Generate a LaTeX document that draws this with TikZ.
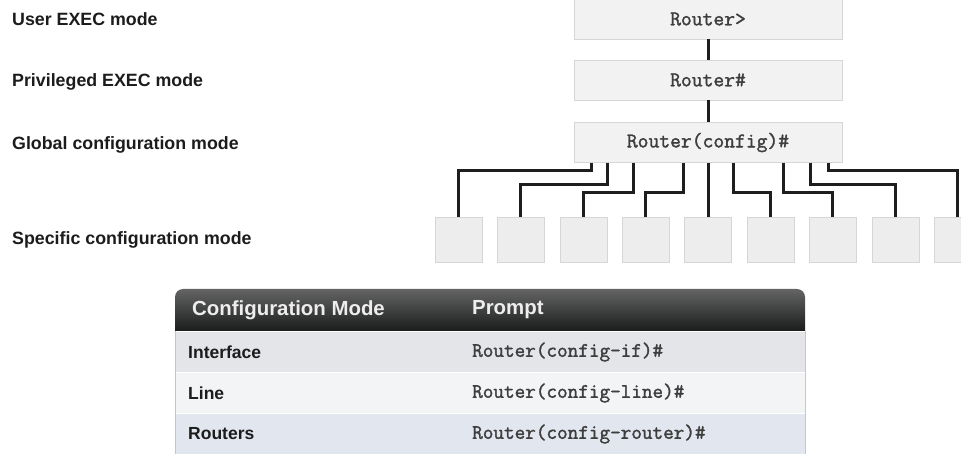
\documentclass[tikz,border=0pt]{standalone}
\usepackage{fontspec}
\setmainfont{Liberation Sans}
\setmonofont[AutoFakeBold=1.6]{Latin Modern Mono}
\usetikzlibrary{positioning}
\definecolor{modefill}{RGB}{242, 242, 243}
\definecolor{modeline}{RGB}{214, 214, 216}
\definecolor{linkcol}{RGB}{30, 30, 30}
\definecolor{inkcol}{RGB}{28, 28, 28}
\definecolor{headtop}{RGB}{100, 100, 100}
\definecolor{headbot}{RGB}{26, 28, 28}
\definecolor{rowa}{RGB}{227, 229, 232}
\definecolor{rowb}{RGB}{243, 244, 246}
\definecolor{rowc}{RGB}{226, 230, 238}

\tikzset{
    modebox/.style={draw=modeline, fill=modefill, minimum width=268pt, minimum height=40pt,
                    font=\ttfamily\bfseries\fontsize{21}{24}\selectfont, text=inkcol!85},
    subbox/.style={draw=modeline, fill=modefill!98!black, minimum width=47pt, minimum height=45pt},
    modelabel/.style={anchor=west, inner sep=0pt, text=inkcol,
                      font=\bfseries\fontsize{17.8}{20}\selectfont},
    link/.style={linkcol, line width=3pt},
    headtext/.style={anchor=west, inner sep=0pt, text=white!93!black,
                     font=\bfseries\fontsize{20.4}{24}\selectfont},
    celltext/.style={anchor=west, inner sep=0pt, text=inkcol,
                     font=\bfseries\fontsize{17.5}{20}\selectfont},
    prompttext/.style={anchor=west, inner sep=0pt, text=inkcol!85,
                       font=\ttfamily\bfseries\fontsize{20.6}{24}\selectfont}
}

\begin{document}
\begin{tikzpicture}[x=1pt, y=-1pt]
    \useasboundingbox (0,0) rectangle (961,454);

    % Mode labels on the left
    \node[modelabel] (lbluser)   at (12, 19.5)  {User EXEC mode};
    \node[modelabel] (lblpriv)   at (12, 82)    {Privileged EXEC mode};
    \node[modelabel] (lblglobal) at (12, 145)   {Global configuration mode};
    \node[modelabel] (lblsub)    at (12, 239.5) {Specific configuration mode};

    % Prompt chain
    \node[modebox] (user)   at (708, 19)  {Router>};
    \node[modebox] (priv)   at (708, 80)  {Router\#};
    \node[modebox] (global) at (708, 142.5) {Router(config)\#};
    \draw[link] (user) -- (priv);
    \draw[link] (priv) -- (global);

    % Sub-mode boxes
    \foreach \i in {1,...,9}
        \node[subbox] (s\i) at ({708+62.4*(\i-5)}, 239.5) {};

    % Branches: drop offset below the global box / depth of the elbow
    \foreach \dx/\lvl [count=\i] in {-117/171, -101/185, -75/193, -25/193, 0/193,
                                     25/193, 75/193, 102/185, 120/171} {
        \coordinate (drop\i) at ([xshift=\dx pt]global.south);
        \draw[link] (drop\i) -- (drop\i |- 0,\lvl) -| (s\i.north);
    }

    % Table of sub-modes
    \shade[top color=headtop, bottom color=headbot]
        (175,331) {[rounded corners=8pt] -- (175,289) -- (805,289)} -- (805,331) -- cycle;
    \node[headtext] (hmode)   at (192, 310) {Configuration Mode};
    \node[headtext] (hprompt) at (472, 310) {Prompt};

    \foreach \mode/\prompt/\col [count=\i] in {Interface/config-if/rowa,
                                               Line/config-line/rowb,
                                               Routers/config-router/rowc} {
        \fill[\col] (175, {331+41*(\i-1)}) rectangle (805, {331+41*\i});
        \draw[white, line width=0.8pt] (175, {331+41*(\i-1)}) -- (805, {331+41*(\i-1)});
        \node[celltext]   (mode\i)   at (188, {352+41*(\i-1)}) {\mode};
        \node[prompttext] (prompt\i) at (472, {352+41*(\i-1)}) {Router(\prompt)\#};
    }
    \draw[gray!45, line width=0.8pt] (175,331) -- (175,454);
    \draw[gray!45, line width=0.8pt] (805,331) -- (805,454);
\end{tikzpicture}
\end{document}
